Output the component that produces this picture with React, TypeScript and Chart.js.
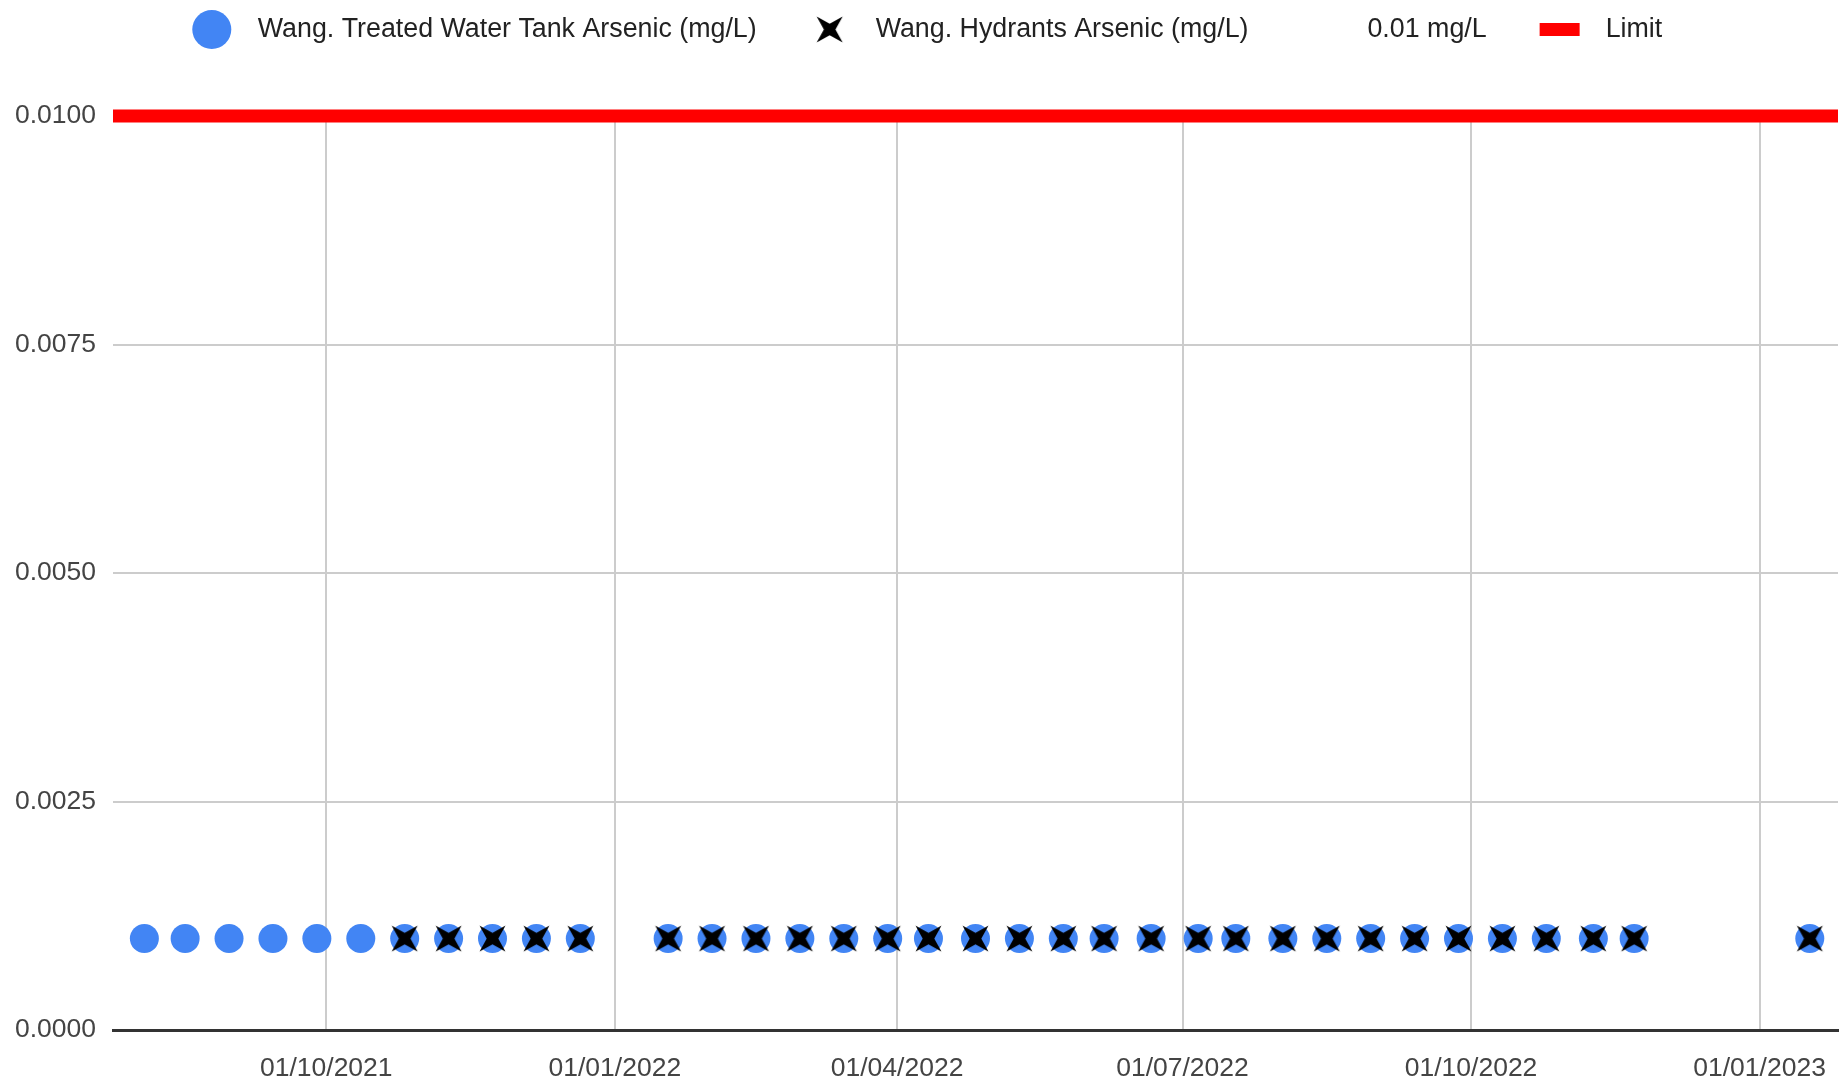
import React, { useEffect, useRef } from "react";
import { Chart, registerables } from "chart.js";

Chart.register(...registerables);

// ---------- data ----------
const tankLabel = "Wang. Treated Water Tank Arsenic (mg/L)";
const hydrantLabel = "Wang. Hydrants Arsenic (mg/L)";
const refLabel = "0.01 mg/L";
const limitLabel = "Limit";

const tankDates = [
  "2021-08-04", "2021-08-17", "2021-08-31", "2021-09-14", "2021-09-28",
  "2021-10-12", "2021-10-26", "2021-11-09", "2021-11-23", "2021-12-07",
  "2021-12-21", "2022-01-18", "2022-02-01", "2022-02-15", "2022-03-01",
  "2022-03-15", "2022-03-29", "2022-04-11", "2022-04-26", "2022-05-10",
  "2022-05-24", "2022-06-06", "2022-06-21", "2022-07-06", "2022-07-18",
  "2022-08-02", "2022-08-16", "2022-08-30", "2022-09-13", "2022-09-27",
  "2022-10-11", "2022-10-25", "2022-11-09", "2022-11-22", "2023-01-17",
];
const tankValues = [
  0.001, 0.001, 0.001, 0.001, 0.001,
  0.001, 0.001, 0.001, 0.001, 0.001,
  0.001, 0.001, 0.001, 0.001, 0.001,
  0.001, 0.001, 0.001, 0.001, 0.001,
  0.001, 0.001, 0.001, 0.001, 0.001,
  0.001, 0.001, 0.001, 0.001, 0.001,
  0.001, 0.001, 0.001, 0.001, 0.001,
];

const hydrantDates = [
  "2021-10-26", "2021-11-09", "2021-11-23", "2021-12-07",
  "2021-12-21", "2022-01-18", "2022-02-01", "2022-02-15", "2022-03-01",
  "2022-03-15", "2022-03-29", "2022-04-11", "2022-04-26", "2022-05-10",
  "2022-05-24", "2022-06-06", "2022-06-21", "2022-07-06", "2022-07-18",
  "2022-08-02", "2022-08-16", "2022-08-30", "2022-09-13", "2022-09-27",
  "2022-10-11", "2022-10-25", "2022-11-09", "2022-11-22", "2023-01-17",
];
const hydrantValues = [
  0.001, 0.001, 0.001, 0.001,
  0.001, 0.001, 0.001, 0.001, 0.001,
  0.001, 0.001, 0.001, 0.001, 0.001,
  0.001, 0.001, 0.001, 0.001, 0.001,
  0.001, 0.001, 0.001, 0.001, 0.001,
  0.001, 0.001, 0.001, 0.001, 0.001,
];

const limitDates = ["2021-07-25", "2023-01-26"];
const limitValues = [0.01, 0.01];

const xMinDate = "2021-07-25";
const xMaxDate = "2023-01-26";
const xTickDates = ["2021-10-01", "2022-01-01", "2022-04-01", "2022-07-01", "2022-10-01", "2023-01-01"];
const yTickValues = [0, 0.0025, 0.005, 0.0075, 0.01];
const yMin = 0;
const yMax = 0.01;

// ---------- styling ----------
const FONT = "'Liberation Sans', Arial, sans-serif";
const FONT_SIZE = 26.5;
const LEGEND_FONT_SIZE = 26.8;
const BLUE = "#4285F4";
const RED = "#FF0000";

const toMs = (s: string) => Date.parse(s + "T00:00:00Z");
const pad2 = (n: number) => (n < 10 ? "0" + n : "" + n);
const fmtDate = (v: number) => {
  const d = new Date(v);
  return pad2(d.getUTCDate()) + "/" + pad2(d.getUTCMonth() + 1) + "/" + d.getUTCFullYear();
};

function makeCross(size: number): HTMLCanvasElement {
  const c = document.createElement("canvas");
  c.width = size;
  c.height = size;
  const g = c.getContext("2d")!;
  const m = size / 2;
  const e = 1.5;
  const k = size * 0.2;
  g.beginPath();
  g.moveTo(e, e);
  g.lineTo(m, m - k);
  g.lineTo(size - e, e);
  g.lineTo(m + k, m);
  g.lineTo(size - e, size - e);
  g.lineTo(m, m + k);
  g.lineTo(e, size - e);
  g.lineTo(m - k, m);
  g.closePath();
  g.fillStyle = "#000";
  g.fill();
  return c;
}

export default function App() {
  const ref = useRef<HTMLCanvasElement | null>(null);

  useEffect(() => {
    if (!ref.current) return;
    const cross = makeCross(29);

    const legendPlugin = {
      id: "customLegend",
      afterDraw(chart: any) {
        const ctx = chart.ctx as CanvasRenderingContext2D;
        ctx.save();
        ctx.font = `${LEGEND_FONT_SIZE}px ${FONT}`;
        ctx.textBaseline = "middle";
        ctx.textAlign = "left";
        const items = [
          { label: tankLabel, kind: "circle" },
          { label: hydrantLabel, kind: "cross" },
          { label: refLabel, kind: "none" },
          { label: limitLabel, kind: "rect" },
        ];
        const markerToText = 46;
        const textToMarker = 73;
        const widths = items.map((it) => ctx.measureText(it.label).width);
        let pos = 0;
        const centers: number[] = [];
        items.forEach((it, i) => {
          centers.push(pos);
          pos = pos + markerToText + widths[i] + (i < items.length - 1 ? textToMarker : 0);
        });
        const span = pos + 20;
        const offset = 927 - span / 2 + 20;
        const cy = 29.5;
        items.forEach((it, i) => {
          const cx = centers[i] + offset;
          if (it.kind === "circle") {
            ctx.fillStyle = BLUE;
            ctx.beginPath();
            ctx.arc(cx, cy, 19.5, 0, Math.PI * 2);
            ctx.fill();
          } else if (it.kind === "cross") {
            ctx.drawImage(cross, cx - 14.5, cy - 14.5);
          } else if (it.kind === "rect") {
            ctx.fillStyle = RED;
            ctx.fillRect(cx - 20, cy - 6.5, 40, 13);
          }
          ctx.fillStyle = "#222";
          ctx.fillText(it.label, cx + markerToText, cy);
        });
        ctx.restore();
      },
    };

    const chart = new Chart(ref.current, {
      type: "scatter",
      data: {
        datasets: [
          {
            label: hydrantLabel,
            data: hydrantDates.map((d, i) => ({ x: toMs(d), y: hydrantValues[i] })),
            pointStyle: cross as any,
            pointRadius: 14.5,
            borderWidth: 0,
            backgroundColor: "#000",
          },
          {
            label: tankLabel,
            data: tankDates.map((d, i) => ({ x: toMs(d), y: tankValues[i] })),
            pointStyle: "circle",
            pointRadius: 14.5,
            borderWidth: 0,
            backgroundColor: BLUE,
          },
          {
            label: refLabel,
            data: limitDates.map((d, i) => ({ x: toMs(d), y: limitValues[i] })),
            pointRadius: 0,
            showLine: false,
            backgroundColor: "rgba(0,0,0,0)",
            borderColor: "rgba(0,0,0,0)",
          },
          {
            label: limitLabel,
            data: limitDates.map((d, i) => ({ x: toMs(d), y: limitValues[i] })),
            showLine: true,
            pointRadius: 0,
            borderColor: RED,
            backgroundColor: RED,
            borderWidth: 13,
            clip: false as any,
          },
        ],
      },
      options: {
        animation: false,
        responsive: false,
        maintainAspectRatio: false,
        layout: { autoPadding: false, padding: { top: 116, right: 7, left: 0, bottom: 0 } },
        plugins: {
          legend: { display: false },
          tooltip: { enabled: false },
        },
        scales: {
          x: {
            type: "linear",
            min: toMs(xMinDate),
            max: toMs(xMaxDate),
            afterFit(s: any) {
              s.height = 56;
              s.paddingLeft = 0;
              s.paddingRight = 0;
            },
            afterBuildTicks(s: any) {
              s.ticks = xTickDates.map((d) => ({ value: toMs(d) }));
            },
            ticks: {
              autoSkip: false,
              maxRotation: 0,
              minRotation: 0,
              padding: 23,
              color: "#444",
              font: { family: FONT, size: FONT_SIZE },
              callback: (v: any) => fmtDate(Number(v)),
            },
            grid: { color: "#cccccc", lineWidth: 2, drawTicks: false },
            border: { display: true, color: "#333", width: 3 },
          },
          y: {
            min: yMin,
            max: yMax,
            afterFit(s: any) {
              s.width = 113;
              s.paddingTop = 0;
              s.paddingBottom = 0;
            },
            afterBuildTicks(s: any) {
              s.ticks = yTickValues.map((v) => ({ value: v }));
            },
            ticks: {
              padding: 17,
              color: "#444",
              font: { family: FONT, size: FONT_SIZE },
              callback: (v: any) => Number(v).toFixed(4),
            },
            grid: { color: "#cccccc", lineWidth: 2, drawTicks: false },
            border: { display: false },
          },
        },
      } as any,
      plugins: [legendPlugin as any],
    });

    return () => chart.destroy();
  }, []);

  return (
    <div style={{ position: "absolute", left: 0, top: 0, width: 1845, height: 1086, background: "#fff" }}>
      <canvas ref={ref} width={1845} height={1086} style={{ width: 1845, height: 1086, display: "block" }} />
    </div>
  );
}
